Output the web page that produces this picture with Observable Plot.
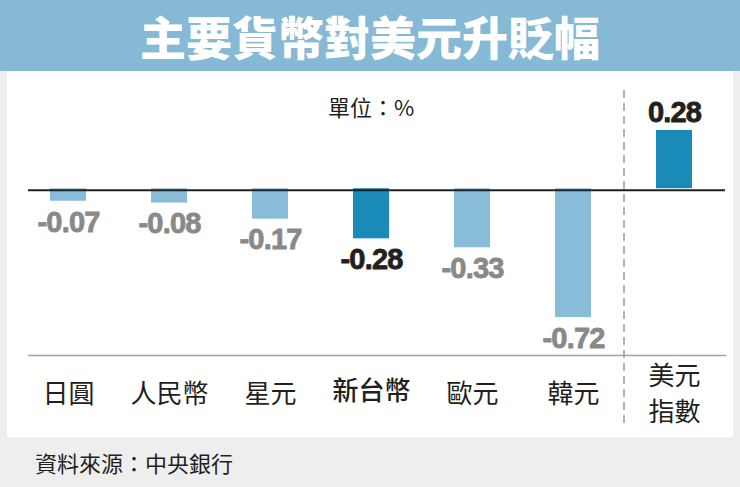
<!DOCTYPE html>
<html>
<head>
<meta charset="utf-8">
<script src="https://cdn.jsdelivr.net/npm/d3@7"></script>
<script src="https://cdn.jsdelivr.net/npm/@observablehq/plot@0.6"></script>
<style>
  html, body { margin: 0; padding: 0; }
  body { width: 740px; height: 487px; background: #eeeeee; overflow: hidden;
         font-family: "Noto Sans CJK TC", "Noto Sans", sans-serif; }
  #title { height: 71px; line-height: 71px; background: #86b9d6; color: #ffffff;
           font-size: 46px; font-weight: 900; text-align: center; }
  #panel { margin: 0 7px; width: 726px; height: 366px; background: #ffffff; }
  #panel svg { display: block; }
  #panel svg g[font-family*="Liberation"] text { letter-spacing: -0.8px; }
  #footer { height: 50px; line-height: 50px; padding-left: 35px; color: #231f20; font-size: 22px; }
</style>
</head>
<body>
<div id="title">主要貨幣對美元升貶幅</div>
<div id="panel"></div>
<div id="footer">資料來源：中央銀行</div>
<script>
const categories = ["日圓", "人民幣", "星元", "新台幣", "歐元", "韓元", "美元指數"];
const categoryLabels = ["日圓", "人民幣", "星元", "新台幣", "歐元", "韓元", "美元\n指數"];
const values = [-0.07, -0.08, -0.17, -0.28, -0.33, -0.72, 0.28];
const highlighted = ["新台幣", "美元指數"];
const unitLabel = "單位：%";

const data = categories.map((c, i) => ({
  category: c,
  label: categoryLabels[i],
  value: values[i],
  hi: highlighted.includes(c)
}));

const lightBlue = "#89bcd9";
const darkBlue = "#1a8bb9";
const grayText = "#898989";
const darkText = "#231f20";
const xRange = [10.6, 717.6];
const step = (xRange[1] - xRange[0]) / categories.length;
// the reference draws the positive side slightly taller than the negative side
const posStretch = 1.1614;
const numFont = "'Liberation Sans', Arial, sans-serif";
const cjkFont = "'Noto Sans CJK TC', sans-serif";
const numStyle = {fontSize: 29, fontWeight: "bold", fontFamily: numFont, strokeWidth: 0.8,
  lineAnchor: "middle"};

const chart = Plot.plot({
  width: 726,
  height: 366,
  marginTop: 19,
  marginBottom: 82,
  marginLeft: 21,
  marginRight: 8,
  style: {background: "transparent", overflow: "visible"},
  x: {domain: categories, range: xRange, paddingInner: 0.6436, paddingOuter: 0.3218, axis: null},
  y: {
    transform: v => v > 0 ? v * posStretch : v,
    domain: [d3.min(values), d3.max(values) * posStretch],
    range: [246.08, 59],
    axis: null
  },
  marks: [
    Plot.frame({anchor: "bottom", stroke: "#a3a3a3", strokeWidth: 1.5}),
    Plot.ruleX(["美元指數"], {dx: -step / 2, stroke: "#9a9a9a", strokeWidth: 1.5,
      strokeDasharray: "8,5", insetBottom: -68}),
    Plot.barY(data, {x: "category", y: "value", fill: d => d.hi ? darkBlue : lightBlue}),
    Plot.ruleY([0], {stroke: darkText, strokeWidth: 2, dy: 1.5}),
    Plot.text(data.filter(d => d.value < 0 && !d.hi), {x: "category", y: "value",
      text: d => d.value.toFixed(2), dy: 21, fill: grayText, stroke: grayText, ...numStyle}),
    Plot.text(data.filter(d => d.value < 0 && d.hi), {x: "category", y: "value",
      text: d => d.value.toFixed(2), dy: 21, fill: darkText, stroke: darkText, ...numStyle}),
    Plot.text(data.filter(d => d.value >= 0), {x: "category", y: "value",
      text: d => d.value.toFixed(2), dy: -18, fill: darkText, stroke: darkText, ...numStyle}),
    Plot.text(data.filter(d => d.category !== "新台幣"), {x: "category", text: "label",
      frameAnchor: "bottom", dy: 36, lineAnchor: "middle", lineHeight: 1.4,
      fill: darkText, fontSize: 26, fontFamily: cjkFont}),
    Plot.text(data.filter(d => d.category === "新台幣"), {x: "category", text: "label",
      frameAnchor: "bottom", dy: 36, lineAnchor: "middle",
      fill: darkText, fontSize: 26, fontWeight: 500, fontFamily: cjkFont}),
    Plot.text([unitLabel], {frameAnchor: "top", dx: -6, dy: 18, lineAnchor: "middle",
      fill: darkText, fontSize: 22, fontFamily: cjkFont})
  ]
});
document.getElementById("panel").appendChild(chart);
</script>
</body>
</html>
